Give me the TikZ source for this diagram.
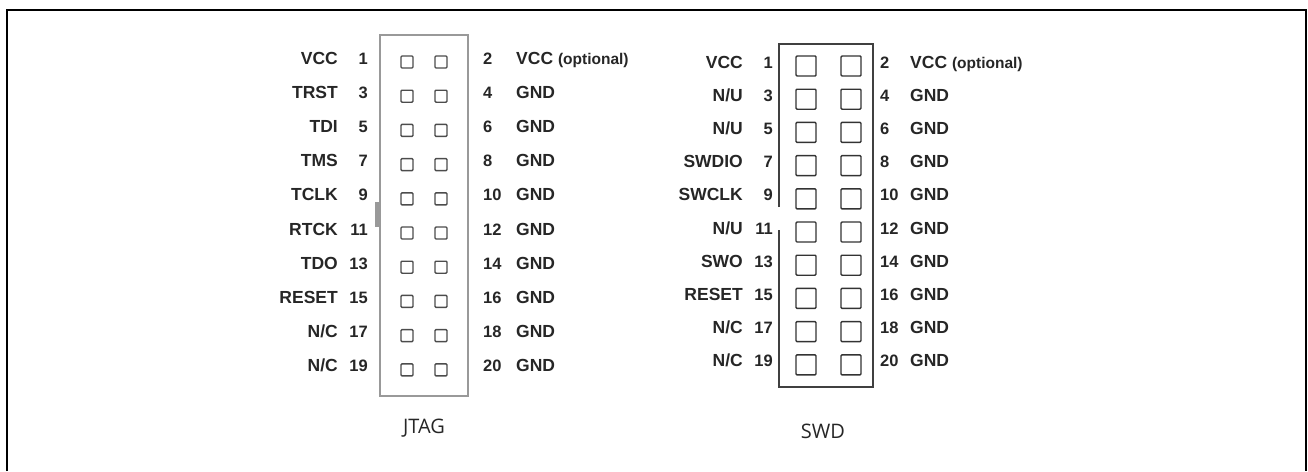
\documentclass[tikz,border=0pt]{standalone}
\usepackage{fontspec}
\newfontfamily\pinfont{Liberation Sans}
\newfontfamily\capfont{Open Sans}
\usetikzlibrary{positioning}
\newcommand{\optnote}{{\fontsize{15.5}{18}\selectfont(optional)}}

\begin{document}
\begin{tikzpicture}[
    x=1pt, y=-1pt,
    pinname/.style={font=\pinfont\bfseries\fontsize{17.5}{20}\selectfont, text=black!85, inner sep=0pt},
    pinnum/.style={font=\pinfont\bfseries\fontsize{16.5}{20}\selectfont, text=black!85, inner sep=0pt},
    jtagpad/.style={draw=black!70, line width=1.4pt, rounded corners=1pt, minimum size=12pt, inner sep=0pt},
    swdpad/.style={draw=black!80, line width=1.4pt, rounded corners=1pt, minimum size=20pt, inner sep=0pt},
    caption/.style={font=\capfont\fontsize{20}{24}\selectfont, text=black!85}
]

\useasboundingbox (0,0) rectangle (1308,471);

% Outer frame, open at the bottom
\draw[line width=2.5pt] (7,471) -- (7,10) -- (1306,10) -- (1306,471);

% JTAG header body and key notch
\node[draw=black!40, line width=1.8pt, minimum width=88pt, minimum height=361pt, inner sep=0pt] (jtag) at (424,215.5) {};
\fill[black!40] (375,202) rectangle (379,227);

% JTAG pins, two per row
\foreach \lname/\lnum/\rnum/\rname [count=\i] in {VCC/1/2/VCC \optnote, TRST/3/4/GND, TDI/5/6/GND,
    TMS/7/8/GND, TCLK/9/10/GND, RTCK/11/12/GND, TDO/13/14/GND, RESET/15/16/GND, {N/C}/17/18/GND, {N/C}/19/20/GND} {
  \pgfmathsetmacro\ry{62+(\i-1)*34.2}
  \node[jtagpad] (jpa\i) at (407,\ry) {};
  \node[jtagpad] (jpb\i) at (441,\ry) {};
  \node[pinnum, anchor=mid east] (jln\i) at (368,\ry) {\lnum};
  \node[pinname, anchor=mid east] (jlt\i) at (338,\ry) {\lname};
  \node[pinnum, anchor=mid west] (jrn\i) at (483,\ry) {\rnum};
  \node[pinname, anchor=mid west] (jrt\i) at (516,\ry) {\rname};
}

% SWD header body, broken on the left
\draw[black!75, line width=1.8pt] (779,207) -- (779,44) -- (873,44) -- (873,387) -- (779,387) -- (779,230);

% SWD pins
\foreach \lname/\lnum/\rnum/\rname [count=\i] in {VCC/1/2/VCC \optnote, {N/U}/3/4/GND, {N/U}/5/6/GND,
    SWDIO/7/8/GND, SWCLK/9/10/GND, {N/U}/11/12/GND, SWO/13/14/GND, RESET/15/16/GND, {N/C}/17/18/GND, {N/C}/19/20/GND} {
  \pgfmathsetmacro\ry{66+(\i-1)*33.2}
  \node[swdpad] (spa\i) at (806,\ry) {};
  \node[swdpad] (spb\i) at (851,\ry) {};
  \node[pinnum, anchor=mid east] (sln\i) at (773,\ry) {\lnum};
  \node[pinname, anchor=mid east] (slt\i) at (743,\ry) {\lname};
  \node[pinnum, anchor=mid west] (srn\i) at (880,\ry) {\rnum};
  \node[pinname, anchor=mid west] (srt\i) at (910,\ry) {\rname};
}

% Captions
\node[caption] (jtagcap) at (424,428) {JTAG};
\node[caption] (swdcap) at (823,431) {SWD};

\end{tikzpicture}
\end{document}
